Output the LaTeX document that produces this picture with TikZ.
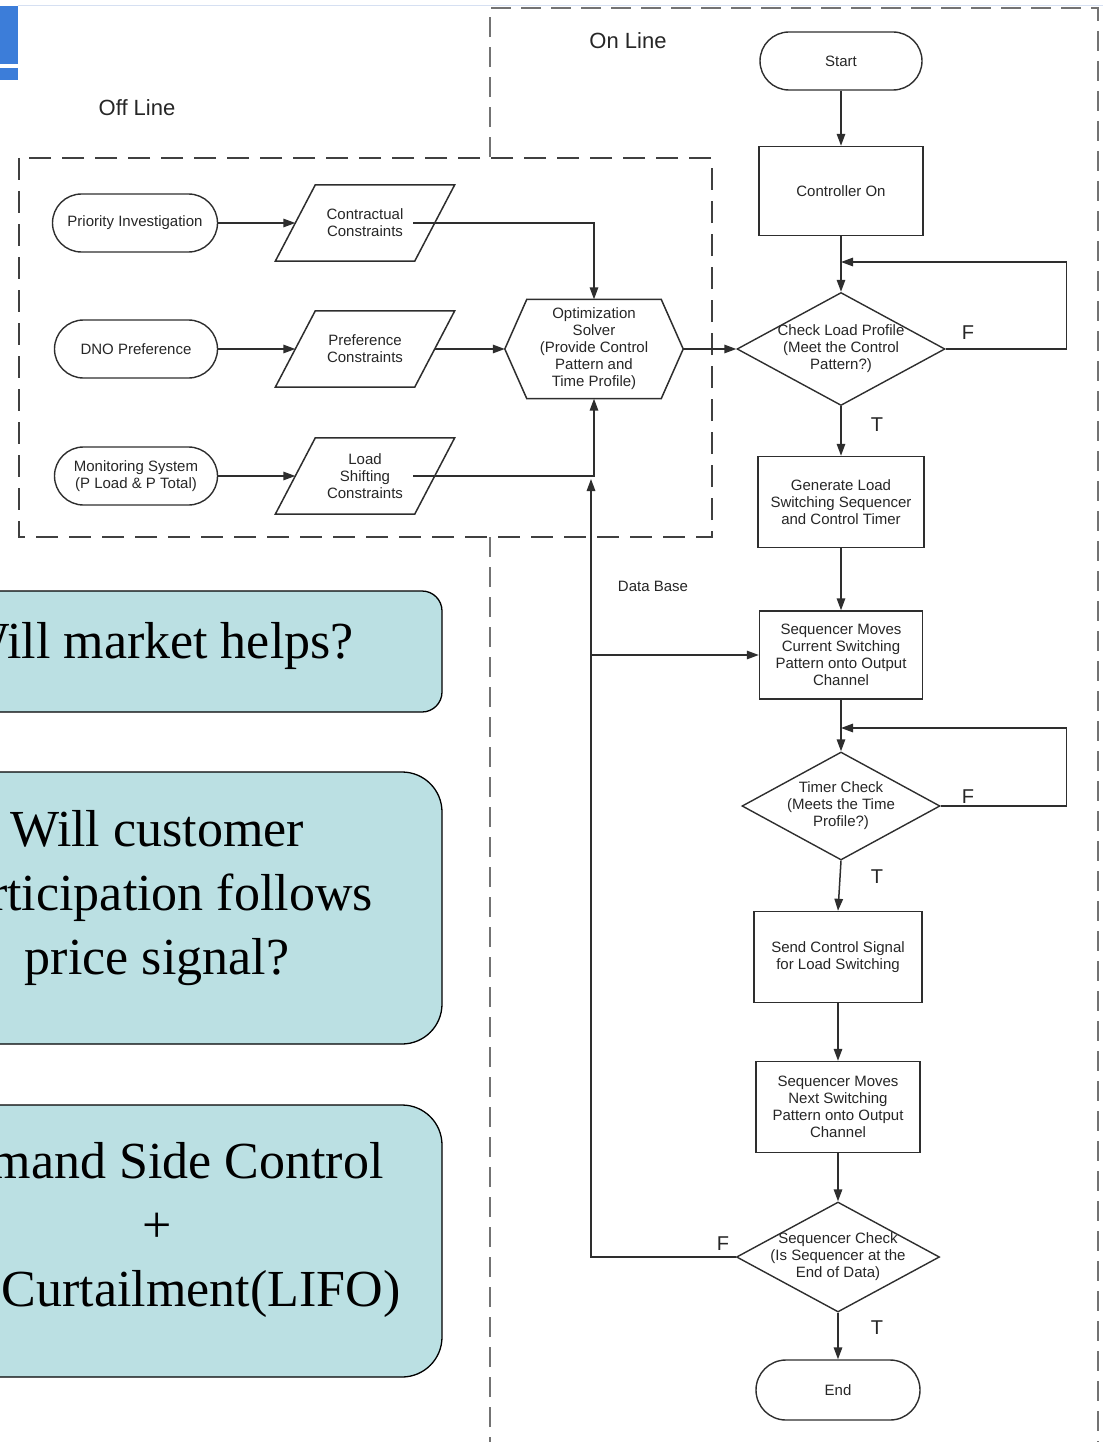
\documentclass[tikz,border=0pt]{standalone}
\usepackage{fontspec}
\setmainfont{Liberation Sans}
\newfontfamily\serifcall{Liberation Serif}
\usetikzlibrary{arrows.meta,shapes.geometric}
\definecolor{lc}{HTML}{2E2E2E}
\definecolor{callfill}{HTML}{BBE0E3}
\definecolor{blueA}{HTML}{3C7DD9}
\definecolor{topline}{HTML}{D6E0F2}
\begin{document}
\begin{tikzpicture}[x=1pt,y=-1pt,
  ln/.style={draw=lc, line width=1.5pt},
  arr/.style={draw=lc, line width=1.5pt, -{Triangle[length=12pt,width=8.5pt]}},
  txt/.style={font=\fontsize{15}{17}\selectfont, text=black!85, align=center},
  term/.style={txt, draw=lc, line width=1.4pt, rounded corners=29pt, minimum height=58pt, inner sep=0pt},
  proc/.style={txt, draw=lc, line width=1.4pt, rectangle, inner sep=0pt},
  dec/.style={diamond, draw=lc, line width=1.4pt, inner sep=0pt},
  anch/.style={txt, rectangle, inner sep=0pt},
  offdash/.style={draw=black!75, line width=1.8pt, dash pattern=on 22pt off 11pt},
  ondash/.style={draw=black!55, line width=1.5pt, dash pattern=on 20pt off 10pt},
  tf/.style={font=\fontsize{20}{20}\selectfont, text=black!85},
  region/.style={font=\fontsize{22}{22}\selectfont, text=black!85},
  call/.style={fill=callfill, draw=black, line width=1.3pt},
  callt/.style={font=\serifcall\fontsize{52}{64}\selectfont, align=center, text=black}
]
\useasboundingbox (0,0) rectangle (1103,1442);
\clip (0,0) rectangle (1103,1442);

% top decorations
\draw[topline, line width=1pt] (18,6) -- (1103,6);
\fill[blueA] (0,6) rectangle (18,64);
\fill[blueA] (0,68) rectangle (18,80);

% regions
\draw[ondash] (490,157) -- (490,8) -- (1098,8) -- (1098,1450);
\draw[ondash] (490,537) -- (490,1450);
\draw[offdash] (19,158) rectangle (712,537);

\node[region] (offl) at (137,108) {Off Line};
\node[region] (onl) at (628,41) {On Line};

% callouts
\draw[call, rounded corners=20pt] (-130,591) rectangle (442,712);
\node[callt, anchor=base] (q1) at (157,658) {Will market helps?};
\draw[call, rounded corners=40pt] (-130,772) rectangle (442,1044);
\node[callt] (q2) at (157,898) {Will customer\\participation follows\\price signal?};
\draw[call, rounded corners=40pt] (-130,1105) rectangle (442,1377);
\node[callt] (q3) at (157,1230) {Demand Side Control\\+\\DG Curtailment(LIFO)};

% off-line nodes
\node[term, minimum width=165pt] (pi) at (135,223) {Priority Investigation};
\node[term, minimum width=163pt] (dno) at (136,349) {DNO Preference};
\node[term, minimum width=163pt] (mon) at (136,476) {Monitoring System\\(P Load \& P Total)};
\node[anch, minimum width=139pt, minimum height=76pt] (cc) at (365,223) {Contractual\\Constraints};
\node[anch, minimum width=139pt, minimum height=76pt] (pc) at (365,349) {Preference\\Constraints};
\node[anch, minimum width=139pt, minimum height=76pt] (ls) at (365,476) {Load\\Shifting\\Constraints};
\foreach \n in {cc,pc,ls}{
  \draw[ln] ([xshift=20pt]\n.north west) -- ([xshift=20pt]\n.north east)
    -- ([xshift=-20pt]\n.south east) -- ([xshift=-20pt]\n.south west) -- cycle;
}
\node[anch, minimum width=178pt, minimum height=99pt] (opt) at (594,349) {Optimization\\Solver\\(Provide Control\\Pattern and\\Time Profile)};
\draw[ln] (opt.west) -- ([xshift=22pt]opt.north west) -- ([xshift=-22pt]opt.north east)
  -- (opt.east) -- ([xshift=-22pt]opt.south east) -- ([xshift=22pt]opt.south west) -- cycle;

% on-line nodes
\node[term, minimum width=162pt] (start) at (841,61) {Start};
\node[proc, minimum width=164pt, minimum height=89pt] (ctrl) at (841,191) {Controller On};
\node[dec, minimum width=208pt, minimum height=113pt,
  label={[txt]center:{Check Load Profile\\(Meet the Control\\Pattern?)}}] (clp) at (841,349) {};
\node[proc, minimum width=166pt, minimum height=91pt] (gen) at (841,502) {Generate Load\\Switching Sequencer\\and Control Timer};
\node[proc, minimum width=163pt, minimum height=88pt] (smc) at (841,655) {Sequencer Moves\\Current Switching\\Pattern onto Output\\Channel};
\node[dec, minimum width=198pt, minimum height=108pt,
  label={[txt]center:{Timer Check\\(Meets the Time\\Profile?)}}] (tc) at (841,806) {};
\node[proc, minimum width=168pt, minimum height=91pt] (send) at (838,957) {Send Control Signal\\for Load Switching};
\node[proc, minimum width=164pt, minimum height=91pt] (nxt) at (838,1107) {Sequencer Moves\\Next Switching\\Pattern onto Output\\Channel};
\node[dec, minimum width=203pt, minimum height=110pt,
  label={[txt]center:{Sequencer Check\\(Is Sequencer at the\\End of Data)}}] (sq) at (838,1257) {};
\node[term, minimum width=164pt, minimum height=60pt, rounded corners=30pt] (end) at (838,1390) {End};

\coordinate (cl1) at (841,262);
\coordinate (tl1) at (841,728);
\coordinate (dbtop) at (591,479);
\coordinate (dbj) at (591,655);

% labels
\node[tf] (f1) at (968,333) {F};
\node[tf] (t1) at (877,425) {T};
\node[tf] (f2) at (968,797) {F};
\node[tf] (t2) at (877,877) {T};
\node[tf] (f3) at (723,1244) {F};
\node[tf] (t3) at (877,1328) {T};
\node[txt] (db) at (653,586) {Data Base};

% connectors
\draw[arr] (pi.east) -- (cc.west);
\draw[arr] (dno.east) -- (pc.west);
\draw[arr] (mon.east) -- (ls.west);
\draw[arr] ([xshift=48pt]cc.center) -| (opt.north);
\draw[arr] (pc.east) -- (opt.west);
\draw[arr] ([xshift=48pt]ls.center) -| (opt.south);
\draw[arr] (opt.east) -- (clp.west);

\draw[arr] (start) -- (ctrl);
\draw[arr] (ctrl) -- (clp);
\draw[arr] (clp.east) -- ++(121pt,0) |- (cl1);
\draw[arr] (clp) -- (gen);
\draw[arr] (gen) -- (smc);
\draw[arr] (smc) -- (tc);
\draw[arr] (tc.east) -- ++(126pt,0) |- (tl1);
\draw[arr] (tc.south) -- (send.north);
\draw[arr] (send) -- (nxt);
\draw[arr] (nxt) -- (sq);
\draw[arr] (sq) -- (end);
\draw[arr] (sq.west) -| (dbtop);
\draw[arr] (dbj) -- (smc.west);
\end{tikzpicture}
\end{document}
